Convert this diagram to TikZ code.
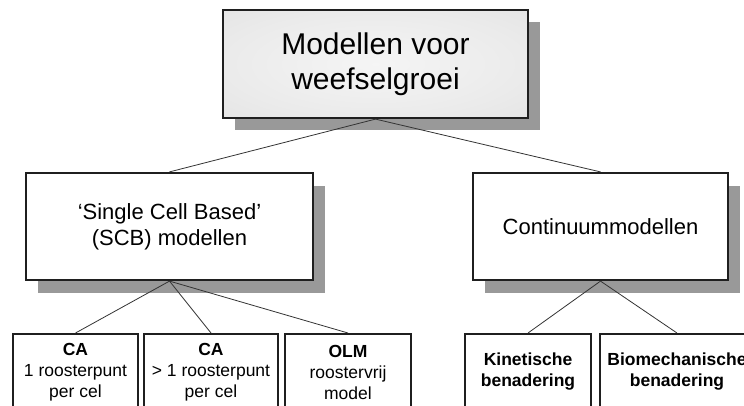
\documentclass[tikz,border=0pt]{standalone}
\usepackage{fontspec}
\setmainfont{Liberation Sans}
\usepackage{xcolor}
\usepackage{tikz}
\usetikzlibrary{shadows, positioning}
\pgfdeclareradialshading{glans}{\pgfpoint{0bp}{0bp}}{color(0bp)=(black!4); color(25bp)=(black!8); color(70bp)=(black!17)}

\begin{document}
\begin{tikzpicture}[
x=1pt,y=-1pt,
hoofd/.style={
    rectangle,minimum width=305pt,minimum height=108pt,line width=2.2pt,draw=black!88,
    shading=glans,align=center,
    font=\fontsize{30}{35}\selectfont,
    drop shadow={shadow xshift=12pt,shadow yshift=-12pt,fill=black!40,opacity=1}
},
groep/.style={
    rectangle,minimum height=107pt,line width=2.2pt,draw=black!88,fill=white,align=center,
    font=\fontsize{22}{26}\selectfont,
    drop shadow={shadow xshift=12pt,shadow yshift=-13pt,fill=black!40,opacity=1}
},
soort/.style={
    rectangle,minimum height=76pt,line width=2pt,draw=black!88,fill=white,align=center,
    font=\fontsize{17.5}{21}\selectfont
},
tak/.style={line width=0.8pt,draw=black!80}
]
    \useasboundingbox (0,0) rectangle (744,405);
    \clip (0,0) rectangle (744,405);

    \node(N1)[hoofd] at (375.5,64){Modellen voor\\weefselgroei};

    \node(G1)[groep,minimum width=287pt] at (169.5,226.5){`Single Cell Based'\\(SCB) modellen};
    \node(G2)[groep,minimum width=255pt] at (600.5,226.5){Continuummodellen};
    \draw[tak] (N1.south) -- (G1.north);
    \draw[tak] (N1.south) -- (G2.north);

    \node(S1)[soort,minimum width=125pt] at (75.5,372){\textbf{CA}\\1 roosterpunt\\per cel};
    \node(S2)[soort,minimum width=134pt] at (211,372){\textbf{CA}\\> 1 roosterpunt\\per cel};
    \node(S3)[soort,minimum width=126pt] at (348,372){\textbf{OLM}\\roostervrij\\model};
    \draw[tak] (G1.south) -- (S1.north);
    \draw[tak] (G1.south) -- (S2.north);
    \draw[tak] (G1.south) -- (S3.north);

    \node(S4)[soort,minimum width=126pt] at (528,372){\textbf{Kinetische}\\\textbf{benadering}};
    \node(S5)[soort,minimum width=154pt] at (677,372){\textbf{Biomechanische}\\\textbf{benadering}};
    \draw[tak] (G2.south) -- (S4.north);
    \draw[tak] (G2.south) -- (S5.north);
\end{tikzpicture}
\end{document}
